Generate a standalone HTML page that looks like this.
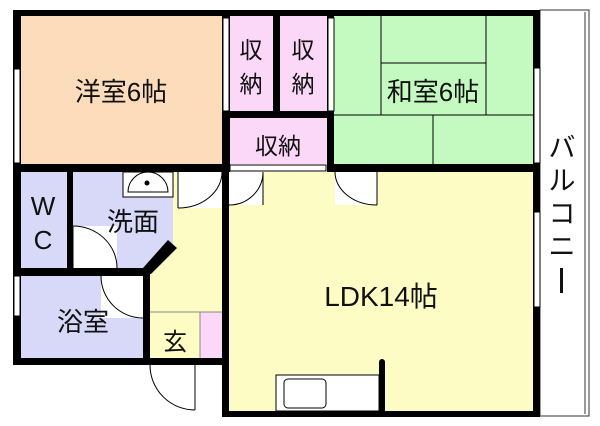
<!DOCTYPE html>
<html><head><meta charset="utf-8"><style>
html,body{margin:0;padding:0;background:#fff;width:600px;height:426px;overflow:hidden}
svg{display:block}
text{font-family:"Liberation Sans","Noto Sans CJK JP",sans-serif;fill:#111}
</style></head><body>
<svg width="600" height="426" viewBox="0 0 600 426" xmlns="http://www.w3.org/2000/svg">
<rect x="540" y="10" width="49" height="406" fill="#fff" stroke="#333" stroke-width="1"/>
<line x1="585" y1="12" x2="585" y2="414" stroke="#333" stroke-width="1"/>
<rect x="13" y="10" width="527" height="8" fill="#000"/>
<rect x="21" y="16" width="201" height="148" fill="#fddcbc"/>
<rect x="230" y="16" width="43" height="95" fill="#fcd8f8"/>
<rect x="280" y="16" width="47" height="95" fill="#fcd8f8"/>
<rect x="230" y="118" width="97" height="46" fill="#fcd8f8"/>
<rect x="334" y="16" width="200" height="148" fill="#c4fac0"/>
<g stroke="#000" stroke-width="1" fill="none">
<line x1="381" y1="16" x2="381" y2="115"/>
<line x1="486" y1="16" x2="486" y2="115"/>
<line x1="381" y1="63" x2="486" y2="63"/>
<line x1="334" y1="115" x2="534" y2="115"/>
<line x1="433" y1="115" x2="433" y2="164"/>
</g>
<rect x="229" y="172" width="305" height="239" fill="#fdfcc4"/>
<rect x="150" y="172" width="72" height="186" fill="#fdfcc4"/>
<rect x="20" y="172" width="47" height="96" fill="#d8d8f8"/>
<polygon points="73,172 173,172 173,245 147,270 73,270" fill="#d8d8f8"/>
<rect x="20" y="276" width="123" height="82" fill="#d8d8f8"/>
<rect x="200" y="312" width="22" height="46" fill="#fcd8f8"/>
<line x1="150" y1="312" x2="222" y2="312" stroke="#888" stroke-width="1"/>
<line x1="200" y1="312" x2="200" y2="358" stroke="#888" stroke-width="1"/>
<g fill="#000">
<rect x="13" y="10" width="8" height="355"/>
<rect x="13" y="164" width="216" height="8"/>
<rect x="222" y="10" width="8" height="162"/>
<rect x="273" y="10" width="7" height="108"/>
<rect x="222" y="111" width="112" height="7"/>
<rect x="327" y="10" width="7" height="162"/>
<rect x="327" y="164" width="213" height="8"/>
<rect x="533" y="10" width="7" height="407"/>
<rect x="67" y="172" width="6" height="96"/>
<rect x="13" y="268" width="137" height="8"/>
<rect x="143" y="268" width="7" height="97"/>
<polygon points="168,240 177,248 151,274 143,274 143,268"/>
<rect x="13" y="358" width="209" height="7"/>
<rect x="222" y="164" width="7" height="253"/>
<rect x="222" y="411" width="318" height="6"/>
<rect x="379" y="359" width="6" height="54" rx="3"/>
</g>
<g fill="#fff" stroke="#000" stroke-width="1">
<rect x="14" y="69" width="6" height="94"/>
<rect x="223" y="18" width="6" height="93"/>
<rect x="328" y="18" width="6" height="93"/>
<rect x="534" y="68" width="6" height="95"/>
<rect x="534" y="212" width="6" height="95"/>
<rect x="14" y="276" width="6" height="40"/>
<rect x="230" y="165" width="96" height="6"/>
<rect x="229" y="172" width="34" height="33" stroke="none"/>
<rect x="335" y="172" width="42" height="33" stroke="none"/>
<rect x="178" y="172" width="44" height="36" stroke="none"/>
<rect x="73" y="226" width="44" height="42" stroke="none"/>
<rect x="101" y="276" width="42" height="42" stroke="none"/>
<rect x="150" y="365" width="45" height="45" stroke="none"/>
<rect x="123" y="172" width="50" height="25"/>
<rect x="276" y="375" width="103" height="36"/>
<rect x="284" y="379" width="42" height="29" rx="4"/>
</g>
<g fill="none" stroke="#000" stroke-width="1">
<path d="M229,205 A34,33 0 0 0 263,172"/><line x1="263" y1="172" x2="263" y2="205"/>
<path d="M377,205 A42,33 0 0 1 335,172"/><line x1="377" y1="172" x2="377" y2="205"/>
<path d="M178,208 A44,36 0 0 0 222,172"/><line x1="178" y1="172" x2="178" y2="208"/>
<path d="M73,226 A44,42 0 0 1 117,268"/><line x1="73" y1="226" x2="73" y2="268"/>
<path d="M101,276 A42,42 0 0 0 143,318"/>
<path d="M150,365 A45,45 0 0 0 195,410"/><line x1="195" y1="365" x2="195" y2="410"/>
<path d="M128,192 A20,20 0 0 1 168,192 Z"/>
</g>
<circle cx="147" cy="183" r="2.5" fill="#000"/>
<text x="121" y="101" font-size="26" text-anchor="middle">洋室6帖</text>
<text x="433" y="101" font-size="26" text-anchor="middle">和室6帖</text>
<text x="251" y="58" font-size="23" text-anchor="middle">収</text>
<text x="251" y="92" font-size="23" text-anchor="middle">納</text>
<text x="303" y="58" font-size="23" text-anchor="middle">収</text>
<text x="303" y="92" font-size="23" text-anchor="middle">納</text>
<text x="278" y="154" font-size="23" text-anchor="middle">収納</text>
<text x="43" y="215" font-size="26" text-anchor="middle">W</text>
<text x="43" y="249" font-size="26" text-anchor="middle">C</text>
<text x="133" y="231" font-size="26" text-anchor="middle">洗面</text>
<text x="83" y="331" font-size="26" text-anchor="middle">浴室</text>
<text x="175" y="350" font-size="24" text-anchor="middle">玄</text>
<text x="381" y="306" font-size="28" text-anchor="middle">LDK14帖</text>
<text x="562" y="157" font-size="27" text-anchor="middle">バ</text>
<text x="562" y="190" font-size="27" text-anchor="middle">ル</text>
<text x="562" y="223" font-size="27" text-anchor="middle">コ</text>
<text x="562" y="256" font-size="27" text-anchor="middle">ニ</text>
<rect x="560" y="268" width="3" height="25" fill="#111"/>
</svg>
</body></html>
